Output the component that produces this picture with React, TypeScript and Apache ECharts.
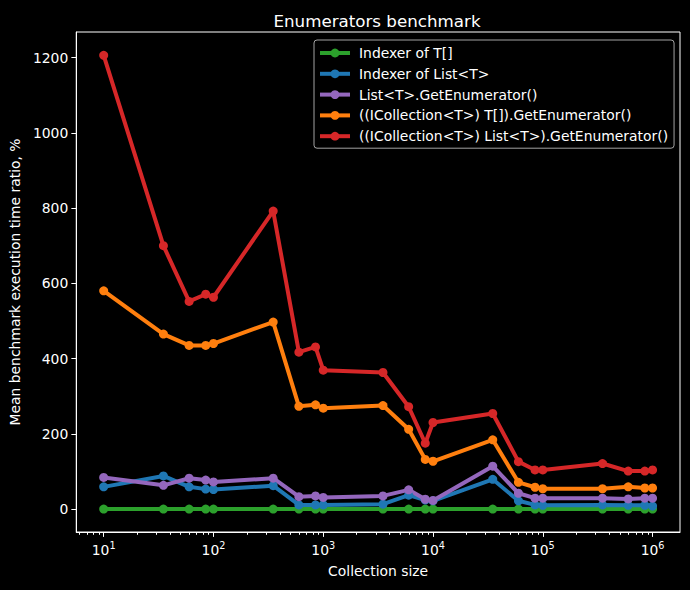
import React, { useEffect, useRef } from 'react';
import * as echarts from 'echarts';

const sizes = [10, 35, 60, 85, 100, 350, 600, 850, 1000, 3500, 6000, 8500, 10000, 35000, 60000, 85000, 100000, 350000, 600000, 850000, 1000000];
const indexerArray = [0, 0, 0, 0, 0, 0, 0, 0, 0, 0, 0, 0, 0, 0, 0, 0, 0, 0, 0, 0, 0];
const indexerList = [59, 88, 59, 53, 52, 62, 11, 11, 11, 13, 37, 24, 22, 79, 22, 11, 10, 11, 10, 10, 8];
const listEnum = [84, 63, 82, 77, 72, 82, 33, 35, 31, 35, 51, 26, 23, 114, 42, 29, 29, 29, 27, 29, 29];
const icollArrayEnum = [580, 465, 435, 435, 440, 497, 273, 277, 268, 275, 212, 132, 127, 184, 71, 58, 54, 54, 59, 56, 56];
const icollListEnum = [1206, 700, 552, 571, 563, 792, 417, 431, 369, 363, 272, 175, 230, 254, 126, 104, 104, 121, 101, 101, 104];

const seriesNames = [
  'Indexer of T[]',
  'Indexer of List<T>',
  'List<T>.GetEnumerator()',
  '((ICollection<T>) T[]).GetEnumerator()',
  '((ICollection<T>) List<T>).GetEnumerator()',
];
const seriesColors = ['#2ca02c', '#1f77b4', '#9467bd', '#ff7f0e', '#d62728'];
const seriesValues = [indexerArray, indexerList, listEnum, icollArrayEnum, icollListEnum];

const xMajorTicks = [10, 100, 1000, 10000, 100000, 1000000];
const yTicks = [0, 200, 400, 600, 800, 1000, 1200];

const X_MIN = Math.pow(10, 0.75);
const X_MAX = Math.pow(10, 6.25);
const Y_MIN = -61;
const Y_MAX = 1268;

const FONT = 'DejaVu Sans';
const FS = 13.9;

function minorTicks(): number[] {
  const out: number[] = [];
  for (let n = 0; n <= 6; n++) {
    for (let k = 2; k <= 9; k++) {
      const v = k * Math.pow(10, n);
      if (v > X_MIN && v < X_MAX) out.push(v);
    }
  }
  return out;
}

export default function App() {
  const ref = useRef<HTMLDivElement>(null);
  useEffect(() => {
    if (!ref.current) return;
    const chart = echarts.init(ref.current, undefined, { renderer: 'svg' });
    const option: any = {
      animation: false,
      backgroundColor: '#000000',
      textStyle: { fontFamily: FONT, color: '#ffffff' },
      title: {
        text: 'Enumerators benchmark',
        left: 377,
        top: 12,
        padding: 0,
        textAlign: 'center',
        textStyle: { color: '#ffffff', fontSize: 16.7, fontWeight: 'normal', fontFamily: FONT },
      },
      legend: {
        data: seriesNames,
        orient: 'vertical',
        left: 314,
        top: 40,
        padding: [6, 6, 5, 4],
        itemWidth: 30,
        itemHeight: 11,
        itemGap: 6.8,
        backgroundColor: 'rgba(0,0,0,0.8)',
        borderColor: 'rgba(204,204,204,0.8)',
        borderWidth: 1,
        borderRadius: 3,
        lineStyle: { width: 4 },
        textStyle: { color: '#ffffff', fontSize: FS, fontFamily: FONT, padding: [0, 0, 0, 4] },
      },
      grid: { left: 74, top: 32, width: 606, height: 500, show: true, borderColor: '#ffffff', borderWidth: 1, backgroundColor: 'transparent' },
      xAxis: {
        type: 'log',
        logBase: 10,
        min: X_MIN,
        max: X_MAX,
        name: 'Collection size',
        nameLocation: 'middle',
        nameGap: 32,
        nameTextStyle: { color: '#ffffff', fontSize: FS, fontFamily: FONT },
        axisLine: { show: true, onZero: false, lineStyle: { color: '#ffffff', width: 1 } },
        axisTick: { show: true, customValues: xMajorTicks, length: 4.9, lineStyle: { color: '#ffffff', width: 1 } },
        splitLine: { show: false },
        axisLabel: {
          customValues: xMajorTicks,
          margin: 8,
          formatter: (v: number) => {
            const n = Math.round(Math.log10(v));
            return '{b|10}{s|' + n + '}';
          },
          rich: {
            b: { fontSize: FS, color: '#ffffff', fontFamily: FONT, lineHeight: 17, verticalAlign: 'bottom' },
            s: { fontSize: 9.7, color: '#ffffff', fontFamily: FONT, lineHeight: 11, verticalAlign: 'top' },
          },
        },
      },
      yAxis: {
        type: 'value',
        min: Y_MIN,
        max: Y_MAX,
        name: 'Mean benchmark execution time ratio, %',
        nameLocation: 'middle',
        nameGap: 51,
        nameTextStyle: { color: '#ffffff', fontSize: FS, fontFamily: FONT },
        axisLine: { show: true, onZero: false, lineStyle: { color: '#ffffff', width: 1 } },
        axisTick: { show: true, customValues: yTicks, length: 4.9, lineStyle: { color: '#ffffff', width: 1 } },
        splitLine: { show: false },
        axisLabel: {
          customValues: yTicks,
          margin: 8,
          color: '#ffffff',
          fontSize: FS,
          fontFamily: FONT,
          formatter: (v: number) => String(v),
        },
      },
      series: [
        ...seriesNames.map((name, i) => ({
          name,
          type: 'line',
          data: sizes.map((s, j) => [s, seriesValues[i][j]]),
          symbol: 'circle',
          symbolSize: 9,
          showAllSymbol: true,
          lineStyle: { color: seriesColors[i], width: 4 },
          itemStyle: { color: seriesColors[i] },
          emphasis: { disabled: true },
        })),
        {
          name: 'minor-ticks',
          type: 'custom',
          clip: false,
          silent: true,
          data: minorTicks().map((v) => [v, Y_MIN]),
          renderItem: (_params: any, api: any) => {
            const p = api.coord([api.value(0), api.value(1)]);
            const x = Math.round(p[0]) + 0.5;
            return {
              type: 'line',
              shape: { x1: x, y1: p[1], x2: x, y2: p[1] + 2.8 },
              style: { stroke: '#ffffff', lineWidth: 1 },
            };
          },
        },
      ],
    };
    chart.setOption(option);
    return () => chart.dispose();
  }, []);
  return <div ref={ref} style={{ position: 'fixed', left: 0, top: 0, width: 690, height: 590 }} />;
}
